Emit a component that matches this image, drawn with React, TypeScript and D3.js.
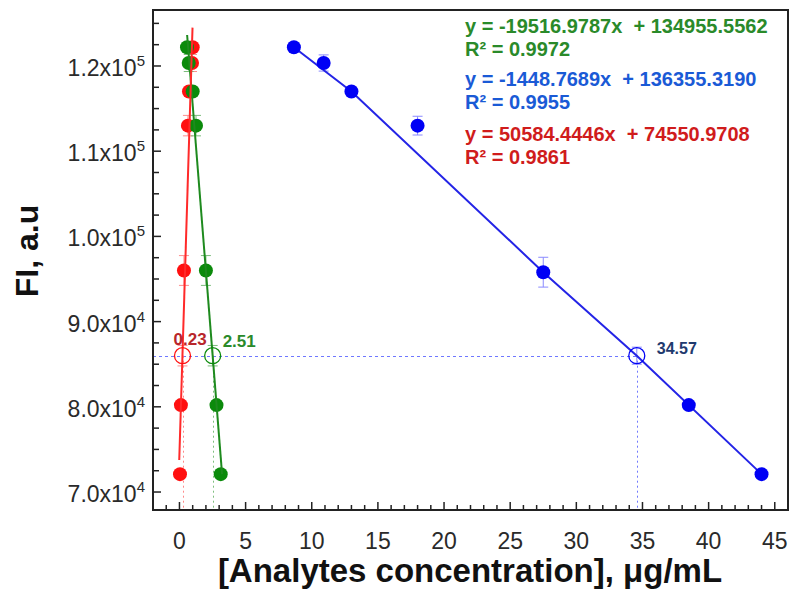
import React from "react";
import * as d3 from "d3";

// ---------- data ----------
const blueX = [8.65, 10.9, 13.0, 18.0, 27.5, 38.5, 44.0];
const blueY = [122200, 120350, 117000, 113000, 95800, 80200, 72100];
const blueErr = [0, 950, 0, 1100, 1750, 300, 0];

const redX = [1.0, 0.95, 0.72, 0.64, 0.34, 0.11, 0.04];
const redY = [122200, 120350, 117000, 113000, 96000, 80200, 72100];
const redErr = [0, 1000, 0, 1200, 1750, 0, 0];

const greenX = [0.57, 0.7, 1.0, 1.25, 2.0, 2.8, 3.12];
const greenY = [122200, 120350, 117000, 113000, 96000, 80200, 72100];
const greenErr = [0, 1000, 0, 1200, 1750, 0, 0];

// estimated concentrations at the unknown sample's FI
const unknownFI = 86000;
const unknownX = [0.23, 2.51, 34.57];
const unknownErr = [1200, 1200, 1000];
const unknownLabels = ["0.23", "2.51", "34.57"];

// fit lines
const redFit = { slope: 50584.4446, intercept: 74550.9708, yFrom: 73750, yTo: 124500 };
const greenFit = { slope: -19516.9787, intercept: 134955.5562, yFrom: 123640, yTo: 72100 };
const blueFitX = [8.65, 13.0, 27.5, 34.57, 44.0];
const blueFitY = [122200, 117000, 95800, 86000, 72100];

const equations = [
  "y = -19516.9787x  + 134955.5562",
  "R² = 0.9972",
  "y = -1448.7689x  + 136355.3190",
  "R² = 0.9955",
  "y = 50584.4446x  + 74550.9708",
  "R² = 0.9861",
];

const xTicks = [0, 5, 10, 15, 20, 25, 30, 35, 40, 45];
const yTicksMantissa = ["7.0", "8.0", "9.0", "1.0", "1.1", "1.2"];
const yTicksExp = ["4", "4", "4", "5", "5", "5"];
const yTicks = [70000, 80000, 90000, 100000, 110000, 120000];

// ---------- layout ----------
const W = 800;
const H = 593;
const L = 153, R = 788, T = 10, B = 510;
const FONT = "'Liberation Sans', Arial, Helvetica, sans-serif";

const C = {
  red: "#ff1010",
  redLine: "#ff2a2a",
  redErr: "#ff8f8f",
  redText: "#d01c1c",
  redAnno: "#b8262b",
  green: "#0b8a0b",
  greenLine: "#1e8a1e",
  greenErr: "#7cbc7c",
  greenText: "#2a8a2a",
  blue: "#0000f5",
  blueLine: "#2424e6",
  blueErr: "#8a8aff",
  blueText: "#1a5ad6",
  blueAnno: "#1f3a6e",
};

export default function App() {
  const x = d3.scaleLinear().domain([-2, 46]).range([L, R]);
  const y = d3.scaleLinear().domain([67890, 126570]).range([B, T]);

  const line = d3
    .line<[number, number]>()
    .x((d) => x(d[0]))
    .y((d) => y(d[1]));

  const fitPts = (f: { slope: number; intercept: number; yFrom: number; yTo: number }) =>
    [f.yFrom, f.yTo].map((v) => [(v - f.intercept) / f.slope, v] as [number, number]);

  const xMinor = d3.range(-1, 46, 1).filter((v) => v % 5 !== 0);
  const yMinor = d3.range(67500, 126600, 2500).filter((v) => v % 10000 !== 0 && v >= 67890);

  const errBars = (xs: number[], ys: number[], es: number[], color: string, key: string) =>
    xs.map((xv, i) =>
      es[i] > 0 ? (
        <g key={key + i} stroke={color} strokeWidth={1}>
          <line x1={x(xv)} x2={x(xv)} y1={y(ys[i] + es[i])} y2={y(ys[i] - es[i])} />
          <line x1={x(xv) - 5} x2={x(xv) + 5} y1={y(ys[i] + es[i])} y2={y(ys[i] + es[i])} />
          <line x1={x(xv) - 5} x2={x(xv) + 5} y1={y(ys[i] - es[i])} y2={y(ys[i] - es[i])} />
        </g>
      ) : null
    );

  const dots = (xs: number[], ys: number[], color: string, key: string) =>
    xs.map((xv, i) => <circle key={key + i} cx={x(xv)} cy={y(ys[i])} r={7} fill={color} />);

  const unkColors = [C.red, C.green, C.blue];
  const unkErrColors = [C.redErr, C.greenErr, C.blueErr];
  const unkGuide = ["#ff8a8a", "#7fbf7f", "#6f78ff"];
  const annoColors = [C.redAnno, C.greenText, C.blueAnno];
  const annoPos = [
    { dx: -9, dy: -11 },
    { dx: 10, dy: -9 },
    { dx: 20, dy: -2 },
  ];

  const eqColors = [C.greenText, C.greenText, C.blueText, C.blueText, C.redText, C.redText];
  const eqBase = [33, 56, 86, 109, 141, 164];
  const hy = Math.round(y(unknownFI)) + 0.5;

  return (
    <svg
      width={W}
      height={H}
      style={{ position: "absolute", left: 0, top: 0, background: "#fff" }}
      fontFamily={FONT}
    >
      <rect x={0} y={0} width={W} height={H} fill="#fff" />

      {/* guide lines */}
      <line
        x1={x(-2)}
        x2={x(unknownX[2])}
        y1={hy}
        y2={hy}
        stroke="#6f78ff"
        strokeWidth={1}
        strokeDasharray="3,3"
      />
      {unknownX.map((xv, i) => (
        <line
          key={"vg" + i}
          x1={Math.round(x(xv)) + 0.5}
          x2={Math.round(x(xv)) + 0.5}
          y1={y(unknownFI)}
          y2={B}
          stroke={unkGuide[i]}
          strokeWidth={1}
          strokeDasharray="2,3"
        />
      ))}

      {/* error bars */}
      {errBars(redX, redY, redErr, C.redErr, "re")}
      {errBars(greenX, greenY, greenErr, C.greenErr, "ge")}
      {errBars(blueX, blueY, blueErr, C.blueErr, "be")}
      {errBars(unknownX, unknownX.map(() => unknownFI), unknownErr, C.blueErr, "ue").map((g, i) =>
        g ? React.cloneElement(g, { stroke: unkErrColors[i] }) : null
      )}

      {/* points */}
      {dots(redX, redY, C.red, "rp")}
      {dots(greenX, greenY, C.green, "gp")}

      {/* fit lines */}
      <path d={line(fitPts(greenFit)) || ""} fill="none" stroke={C.greenLine} strokeWidth={2} />
      <path d={line(fitPts(redFit)) || ""} fill="none" stroke={C.redLine} strokeWidth={2} />
      <path
        d={line(blueFitX.map((v, i) => [v, blueFitY[i]] as [number, number])) || ""}
        fill="none"
        stroke={C.blueLine}
        strokeWidth={2}
      />
      {dots(blueX, blueY, C.blue, "bp")}

      {/* open circles */}
      {unknownX.map((xv, i) => (
        <circle
          key={"oc" + i}
          cx={x(xv)}
          cy={y(unknownFI)}
          r={8}
          fill="none"
          stroke={unkColors[i]}
          strokeWidth={1.3}
        />
      ))}

      {/* annotations */}
      {unknownX.map((xv, i) => (
        <text
          key={"an" + i}
          x={x(xv) + annoPos[i].dx}
          y={y(unknownFI) + annoPos[i].dy}
          fill={annoColors[i]}
          fontSize={i === 2 ? 16 : 17}
          fontWeight="bold"
        >
          {unknownLabels[i]}
        </text>
      ))}

      {/* equations */}
      {equations.map((t, i) => (
        <text
          key={"eq" + i}
          x={465}
          y={eqBase[i]}
          fill={eqColors[i]}
          fontSize={20}
          fontWeight="bold"
          style={{ whiteSpace: "pre" }}
        >
          {t}
        </text>
      ))}

      {/* frame */}
      <rect x={L} y={T} width={R - L} height={B - T} fill="none" stroke="#222" strokeWidth={2} />

      {/* x ticks */}
      {xTicks.map((v) => (
        <g key={"xt" + v}>
          <line x1={x(v)} x2={x(v)} y1={B} y2={B - 8} stroke="#222" strokeWidth={1.5} />
          <text x={x(v)} y={549} textAnchor="middle" fontSize={23} fill="#2a2a2a">
            {v}
          </text>
        </g>
      ))}
      {xMinor.map((v) => (
        <line key={"xm" + v} x1={x(v)} x2={x(v)} y1={B} y2={B - 5} stroke="#222" strokeWidth={1.5} />
      ))}

      {/* y ticks */}
      {yTicks.map((v, i) => (
        <g key={"yt" + v}>
          <line x1={L} x2={L + 8} y1={y(v)} y2={y(v)} stroke="#222" strokeWidth={1.5} />
          <text x={145} y={y(v) + 10} textAnchor="end" fontSize={23} fill="#2a2a2a">
            {yTicksMantissa[i] + "x10"}
            <tspan fontSize={15} dy={-10}>
              {yTicksExp[i]}
            </tspan>
          </text>
        </g>
      ))}
      {yMinor.map((v) => (
        <line key={"ym" + v} x1={L} x2={L + 6} y1={y(v)} y2={y(v)} stroke="#222" strokeWidth={1.5} />
      ))}

      {/* axis titles */}
      <text
        transform={`translate(38, 251) rotate(-90)`}
        textAnchor="middle"
        fontSize={32}
        fontWeight="bold"
        fill="#111"
      >
        FI, a.u
      </text>
      <text x={470} y={582} textAnchor="middle" fontSize={33} fontWeight="bold" fill="#111">
        [Analytes concentration], μg/mL
      </text>
    </svg>
  );
}
